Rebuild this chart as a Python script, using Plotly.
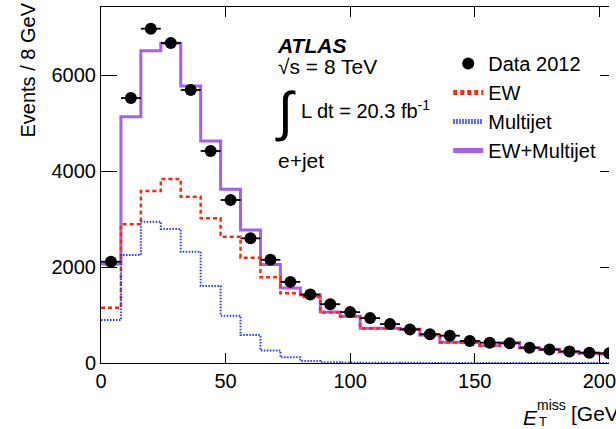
import plotly.graph_objects as go

# ---- data ----
bin_edges = [0, 8, 16, 24, 32, 40, 48, 56, 64, 72, 80, 88, 96, 104, 112, 120, 128,
             136, 144, 152, 160, 168, 176, 184, 192, 200, 208]
bin_centers = [4, 12, 20, 28, 36, 44, 52, 60, 68, 76, 84, 92, 100, 108, 116, 124,
               132, 140, 148, 156, 164, 172, 180, 188, 196, 204]
data_2012 = [2110, 5520, 6965, 6667, 5688, 4417, 3396, 2597, 2150, 1690, 1425, 1225,
             1060, 935, 810, 700, 600, 569, 458, 424, 410, 319, 280, 240, 215, 201]
ew = [1153, 2889, 3583, 3833, 3465, 3014, 2632, 2194, 1785, 1451, 1375, 1050, 967,
      720, 718, 702, 581, 429, 429, 360, 423, 318, 284, 228, 200, 187]
multijet = [896, 2250, 2944, 2792, 2319, 1604, 986, 583, 260, 120, 42, 15, 8, 5, 4,
            3, 2, 2, 2, 1, 1, 1, 1, 1, 1, 1]
ew_multijet = [2062, 5132, 6507, 6660, 5771, 4625, 3618, 2771, 2050, 1560, 1417, 1065,
               975, 725, 722, 705, 583, 431, 431, 361, 424, 319, 285, 229, 201, 188]
bin_half_width = [4] * len(bin_centers)
x_ticks = [0, 50, 100, 150, 200]
y_ticks = [0, 2000, 4000, 6000]

FONT = "Liberation Sans, Arial, sans-serif"
PURPLE = "rgb(165,95,245)"
RED = "rgb(255,40,15)"
BLUE = "rgb(40,60,255)"

W, H = 616, 429
L, R, T, B = 101, 0, 7, 66
PW, PH = W - L - R, H - T - B


def px(xp):
    return (xp - L) / PW


def py(yp):
    return (H - B - yp) / PH


def step(vals):
    return vals + [vals[-1]]


fig = go.Figure()
fig.add_trace(go.Scatter(x=bin_edges, y=step(ew_multijet), mode="lines", line_shape="hv",
                         line=dict(color=PURPLE, width=3), name="EW+Multijet",
                         legendrank=4))
fig.add_trace(go.Scatter(x=bin_edges, y=step(ew), mode="lines", line_shape="hv",
                         line=dict(color=RED, width=2.5, dash="4px,3px"), name="EW",
                         legendrank=2))
fig.add_trace(go.Scatter(x=bin_edges, y=step(multijet), mode="lines", line_shape="hv",
                         line=dict(color=BLUE, width=2, dash="1.5px,1.5px"), name="Multijet",
                         legendrank=3))
fig.add_trace(go.Scatter(x=bin_centers, y=data_2012, mode="markers",
                         marker=dict(color="black", size=12),
                         error_x=dict(type="data", array=bin_half_width, color="black",
                                      thickness=1.8, width=0),
                         name="Data 2012", legendrank=1))

fig.update_layout(
    width=W, height=H, autosize=False,
    margin=dict(l=L, r=R, t=T, b=B, pad=0),
    paper_bgcolor="white", plot_bgcolor="white",
    font=dict(family=FONT, size=20, color="black"),
    showlegend=True,
    legend=dict(x=px(453), y=py(44), xanchor="left", yanchor="top",
                bgcolor="rgba(0,0,0,0)", font=dict(size=20), tracegroupgap=0,
                itemsizing="constant"),
    xaxis=dict(range=[0, (W - R - L) / 2.526], tickvals=x_ticks, ticks="inside",
               ticklen=10, tickwidth=1, tickcolor="black", showline=True,
               linecolor="black", linewidth=1, mirror="ticks", showgrid=False,
               zeroline=False, tickfont=dict(size=20), ticklabeloverflow="allow"),
    yaxis=dict(range=[0, 7417], tickvals=y_ticks, ticks="inside", ticklen=16,
               tickwidth=1, tickcolor="black", showline=True, linecolor="black",
               linewidth=1, mirror=False, showgrid=False, zeroline=False,
               tickfont=dict(size=20)),
    yaxis2=dict(overlaying="y", side="right", matches="y", tickvals=y_ticks,
                ticks="inside", ticklen=9, tickcolor="black", showticklabels=False,
                showline=False, showgrid=False, zeroline=False),
)

# invisible trace to activate right-side ticks
fig.add_trace(go.Scatter(x=[0], y=[0], yaxis="y2", mode="markers", showlegend=False,
                         marker=dict(opacity=0), hoverinfo="skip"))

ann = [
    dict(text="<b><i>ATLAS</i></b>", x=px(277), y=py(45), size=21),
    dict(text="√s = 8 TeV", x=px(278), y=py(67), size=21),
    dict(text="∫", x=px(275), y=py(111), size=54),
    dict(text="L dt = 20.3 fb<sup>-1</sup>", x=px(302), y=py(109), size=20),
    dict(text="e+jet", x=px(278), y=py(160), size=21),
    dict(text="<i>E</i>", x=px(527), y=py(417), size=21),
    dict(text="miss", x=px(541), y=py(405), size=14),
    dict(text="T", x=px(543), y=py(421), size=13),
    dict(text="[GeV]", x=px(575), y=py(413), size=21),
]
for a in ann:
    fig.add_annotation(text=a["text"], x=a["x"], y=a["y"], xref="paper", yref="paper",
                       xanchor="left", yanchor="middle", showarrow=False,
                       font=dict(family=FONT, size=a["size"], color="black"))

fig.add_annotation(text="Events / 8 GeV", x=px(26), y=py(1), xref="paper", yref="paper",
                   xanchor="center", yanchor="top", textangle=-90, showarrow=False,
                   font=dict(family=FONT, size=20, color="black"))

fig.write_html("out.html")
